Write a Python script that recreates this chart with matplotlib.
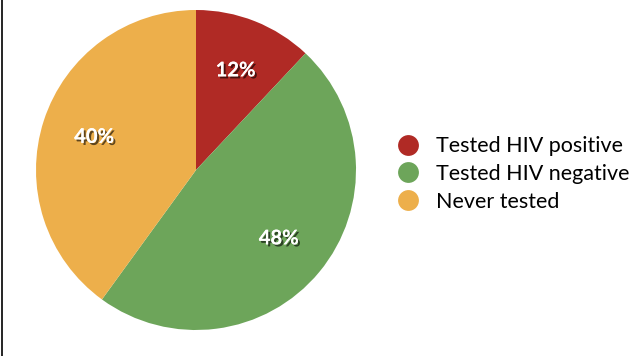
import matplotlib; matplotlib.use('Agg')
import matplotlib.pyplot as plt
import matplotlib.patheffects as pe
from matplotlib.lines import Line2D

# ── data ──
labels = ['Tested HIV positive', 'Tested HIV negative', 'Never tested']
shares = [12, 48, 40]
colors = ['#B02A25', '#6DA55A', '#EDAF4B']

W, H = 643, 356
fig = plt.figure(figsize=(W / 100, H / 100), dpi=100)
fig.patch.set_facecolor('white')

# pie centre (196, 170) px, radius 160 px
cx, cy, r = 196, 170, 160
ax = fig.add_axes([(cx - r) / W, (H - cy - r) / H, 2 * r / W, 2 * r / H])

shadow = [pe.withSimplePatchShadow(offset=(1.5, -1.5), shadow_rgbFace='black', alpha=0.6),
          pe.Normal()]
wedges, _, autotexts = ax.pie(shares, colors=colors, startangle=90, counterclock=False,
                              autopct='%d%%', pctdistance=0.67, radius=1,
                              wedgeprops=dict(linewidth=0))
for t in autotexts:
    t.set_color('white')
    t.set_fontsize(14.5)
    t.set_fontweight('bold')
    t.set_fontfamily('Lato')
    t.set_path_effects(shadow)
ax.set_xlim(-1, 1)
ax.set_ylim(-1, 1)
ax.set_aspect('equal')

# legend with round markers
handles = [Line2D([], [], marker='o', ls='', markersize=15, markerfacecolor=c,
                  markeredgewidth=0) for c in colors]
fig.legend(handles, labels, loc='center left', bbox_to_anchor=(396 / W, 1 - 174 / H),
           frameon=False, prop=dict(family='Lato', size=15.5), handletextpad=0.75,
           labelspacing=0.35, handlelength=1.1, borderpad=0, borderaxespad=0)

# left border line
fig.add_artist(Line2D([2 / W, 2 / W], [0, 1], color='black', lw=1.2))

plt.savefig('out.png', dpi=100, facecolor='white')
plt.close()
